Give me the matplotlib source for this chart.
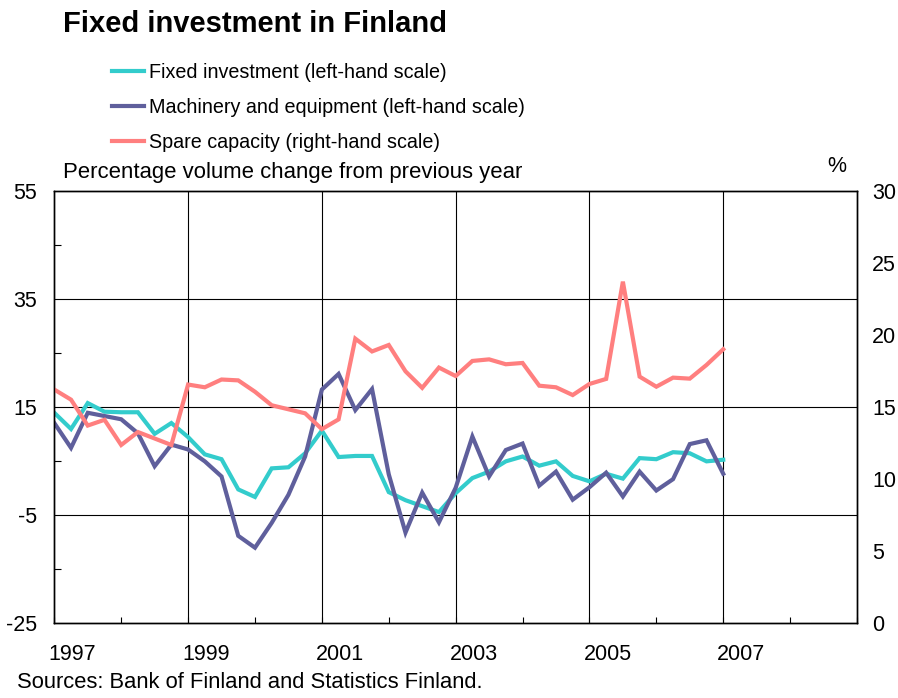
import numpy as np
import pandas as pd
import matplotlib
matplotlib.use("Agg")
import matplotlib.pyplot as plt
from matplotlib.transforms import blended_transform_factory

plt.rcParams['font.family'] = ['Liberation Sans', 'DejaVu Sans']
plt.rcParams['axes.unicode_minus'] = False

# ---- data (quarterly, 1997Q1 .. 2007Q1) ----
start_quarter = '1997Q1'
n_quarters = 41
fixed_investment = [13.9, 10.9, 15.7, 14.1, 14.0, 14.0, 10.0, 12.0, 9.4, 6.2,
                    5.3, -0.3, -1.7, 3.6, 3.8, 6.4, 10.6, 5.7, 5.9, 5.9,
                    -0.8, -2.3, -3.4, -4.5, -1.0, 1.8, 3.0, 4.9, 5.8, 4.1,
                    4.9, 2.2, 1.2, 2.6, 1.7, 5.5, 5.3, 6.6, 6.4, 4.9, 5.2]
machinery = [12.0, 7.4, 13.9, 13.3, 12.7, 10.1, 4.0, 8.0, 7.1, 4.9,
             2.1, -8.9, -11.1, -6.5, -1.3, 5.8, 18.2, 21.1, 14.4, 18.3,
             2.5, -8.3, -0.9, -6.4, 0.0, 9.5, 2.1, 7.0, 8.2, 0.4,
             3.0, -2.2, 0.1, 2.8, -1.6, 3.0, -0.5, 1.6, 8.1, 8.8, 2.6]
spare_capacity = [16.2, 15.5, 13.7, 14.1, 12.35, 13.25, 12.8, 12.35, 16.55, 16.36,
                  16.9, 16.84, 16.05, 15.11, 14.83, 14.55, 13.45, 14.13, 19.74, 18.85,
                  19.3, 17.47, 16.32, 17.73, 17.14, 18.19, 18.3, 17.96, 18.05, 16.47,
                  16.36, 15.82, 16.59, 16.94, 23.7, 17.1, 16.4, 17.03, 16.96, 17.91, 19.0]
labels = ['Fixed investment (left-hand scale)',
          'Machinery and equipment (left-hand scale)',
          'Spare capacity (right-hand scale)']
colors = ['#33CCCC', '#5F5F9C', '#FF7F7F']
year_labels = ['1997', '1999', '2001', '2003', '2005', '2007']
left_ticks = [-25, -5, 15, 35, 55]
right_ticks = [0, 5, 10, 15, 20, 25, 30]

periods = pd.period_range(start_quarter, periods=n_quarters, freq='Q')
x = np.array([p.year + (p.quarter - 1) / 4 for p in periods])

W, H = 898, 698
fig = plt.figure(figsize=(W / 100, H / 100), dpi=100)
ax = fig.add_axes([54.3 / W, 1 - 622.7 / H, (857 - 54.3) / W, (622.7 - 191) / H])
ax2 = ax.twinx()

lw = 3.0
l1, = ax.plot(x, fixed_investment, color=colors[0], lw=lw, solid_joinstyle='miter')
l2, = ax.plot(x, machinery, color=colors[1], lw=lw, solid_joinstyle='miter')
l3, = ax2.plot(x, spare_capacity, color=colors[2], lw=lw, solid_joinstyle='miter')

ax.set_xlim(1997, 2009)
ax.set_ylim(-25, 55)
ax2.set_ylim(0, 30)

# grid
ax.set_yticks(left_ticks)
ax.set_yticks([-15, 5, 25, 45], minor=True)
ax.set_xticks(np.arange(1997, 2010, 1))
ax.set_xticks([], minor=True)
for yv in left_ticks[1:-1]:
    ax.axhline(yv, color='black', lw=0.8, zorder=0.5)
for xv in [1999, 2001, 2003, 2005, 2007]:
    ax.axvline(xv, color='black', lw=0.8, zorder=0.5)

fs = 15.5
ax.tick_params(axis='y', which='major', length=0, pad=12.3, labelsize=fs)
ax.tick_params(axis='y', which='minor', length=5, direction='in', width=0.8)
ax.tick_params(axis='x', which='major', length=4.5, direction='in', width=0.8,
               labelbottom=False)
ax2.set_yticks(right_ticks)
ax2.tick_params(axis='y', length=0, pad=10.8, labelsize=fs)
for a in (ax, ax2):
    for s in a.spines.values():
        s.set_linewidth(1.0)
        s.set_color('black')

# year labels (placed a quarter into each year, as in the original)
trans = blended_transform_factory(ax.transData, fig.transFigure)
for lab in year_labels:
    ax.text(int(lab) + 0.27, 1 - 655 / H, lab, transform=trans, ha='center',
            va='center', fontsize=fs)

# texts
fig.text(63 / W, 1 - 31.5 / H, 'Fixed investment in Finland', fontsize=21,
         fontweight='bold', ha='left', va='baseline')
fig.text(63 / W, 1 - 178 / H, 'Percentage volume change from previous year',
         fontsize=15.9, ha='left', va='baseline')
fig.text(837 / W, 1 - 172 / H, '%', fontsize=fs, ha='center', va='baseline')
fig.text(17 / W, 1 - 688 / H, 'Sources: Bank of Finland and Statistics Finland.',
         fontsize=15.8, ha='left', va='baseline')

fig.legend([l1, l2, l3], labels, loc='upper left',
           bbox_to_anchor=(112 / W, 1 - 63 / H), bbox_transform=fig.transFigure,
           frameon=False, fontsize=14.2, borderpad=0, borderaxespad=0,
           handlelength=1.6, handletextpad=0.26, labelspacing=0.82)

fig.savefig('out.png', dpi=100)
